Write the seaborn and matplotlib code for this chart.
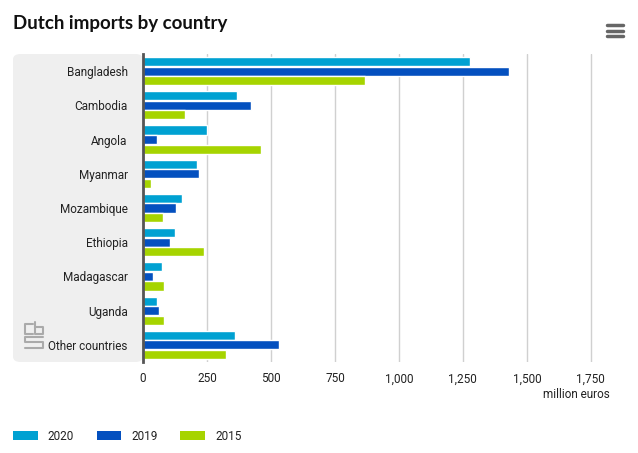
import numpy as np
import pandas as pd
import matplotlib
matplotlib.use("Agg")
import matplotlib.pyplot as plt
import seaborn as sns
from matplotlib.patches import FancyBboxPatch, Patch
from matplotlib.lines import Line2D
from matplotlib.ticker import FuncFormatter

countries = ["Bangladesh", "Cambodia", "Angola", "Myanmar", "Mozambique",
             "Ethiopia", "Madagascar", "Uganda", "Other countries"]
years = ["2020", "2019", "2015"]
imports_2020 = [1278, 367, 250, 211, 152, 125, 74, 55, 361]
imports_2019 = [1430, 422, 55, 219, 129, 105, 39, 62, 530]
imports_2015 = [867, 164, 461, 31, 78, 238, 82, 82, 326]
colors = ["#00a1d2", "#0450bf", "#a6d400"]

df = pd.DataFrame({"country": countries, "2020": imports_2020,
                   "2019": imports_2019, "2015": imports_2015})
df = df.melt(id_vars="country", var_name="year", value_name="value")

sns.set_theme(style="white")
plt.rcParams["font.family"] = ["Roboto", "DejaVu Sans"]

fig = plt.figure(figsize=(6.38, 4.53), dpi=100)
W, H = 638, 453

# grey panel behind the country labels
panel = FancyBboxPatch((13 / W, (H - 362) / H), (143 - 13) / W, 308 / H,
                       boxstyle="round,pad=0,rounding_size=0.012",
                       transform=fig.transFigure, facecolor="#efefef",
                       edgecolor="none", zorder=0)
fig.patches.append(panel)

ax = fig.add_axes([143 / W, (H - 362) / H, (610 - 143) / W, 308 / H])
ax.set_zorder(2)
ax.patch.set_alpha(0)
sns.barplot(data=df, y="country", x="value", hue="year", hue_order=years,
            palette=colors, orient="h", width=0.84, gap=0.05,
            legend=False, ax=ax, saturation=1)

ax.set_xlim(0, 1825)
ax.set_xticks([0, 250, 500, 750, 1000, 1250, 1500, 1750])
ax.xaxis.set_major_formatter(FuncFormatter(lambda v, p: f"{int(v):,}"))
ax.grid(axis="x", color="#d0d0d0", linewidth=1)
ax.set_axisbelow(True)
for s in ["top", "right", "bottom"]:
    ax.spines[s].set_visible(False)
ax.spines["left"].set_color("#555555")
ax.spines["left"].set_linewidth(2)
ax.spines["left"].set_zorder(5)
ax.set_xlabel("")
ax.set_ylabel("")
ax.tick_params(axis="y", length=0, pad=11, labelsize=8.5, labelcolor="#222222")
ax.tick_params(axis="x", length=4, color="#d0d0d0", pad=3.5, labelsize=8.5,
               labelcolor="#222222")

fig.text(610 / W, 1 - 395 / H, "million euros", ha="right", va="center",
         fontsize=8.5, color="#222222")

fig.text(13 / W, 1 - 23 / H, "Dutch imports by country", ha="left",
         va="center", fontsize=13.5, fontweight="bold", color="#111111",
         family=["Lato", "DejaVu Sans"])

# menu icon
for yy in [25, 30.5, 36]:
    fig.add_artist(Line2D([607 / W, 623 / W], [1 - yy / H, 1 - yy / H],
                          color="#666666", linewidth=2.5,
                          solid_capstyle="round", transform=fig.transFigure))

# simplified cbs logo
logo = [
    [(33, 324), (25, 324), (25, 334), (33, 334)],
    [(35, 322), (35, 334), (43, 334), (43, 327), (35, 327)],
    [(43, 337), (25, 337), (25, 342), (43, 342), (43, 348), (25, 348)],
]
for pts in logo:
    xs = [p[0] / W for p in pts]
    ys = [1 - p[1] / H for p in pts]
    fig.add_artist(Line2D(xs, ys, color="#aaaaaa", linewidth=1.5,
                          transform=fig.transFigure))

handles = [Patch(facecolor=c, edgecolor="none", label=y)
           for c, y in zip(colors, years)]
fig.legend(handles=handles, loc="center left",
           bbox_to_anchor=(13 / W, 1 - 436 / H), ncol=3, frameon=False,
           fontsize=8.5, handlelength=2.1, handleheight=0.75,
           handletextpad=0.85, columnspacing=1.9, borderpad=0,
           borderaxespad=0, labelcolor="#222222")

fig.savefig("out.png", dpi=100)
